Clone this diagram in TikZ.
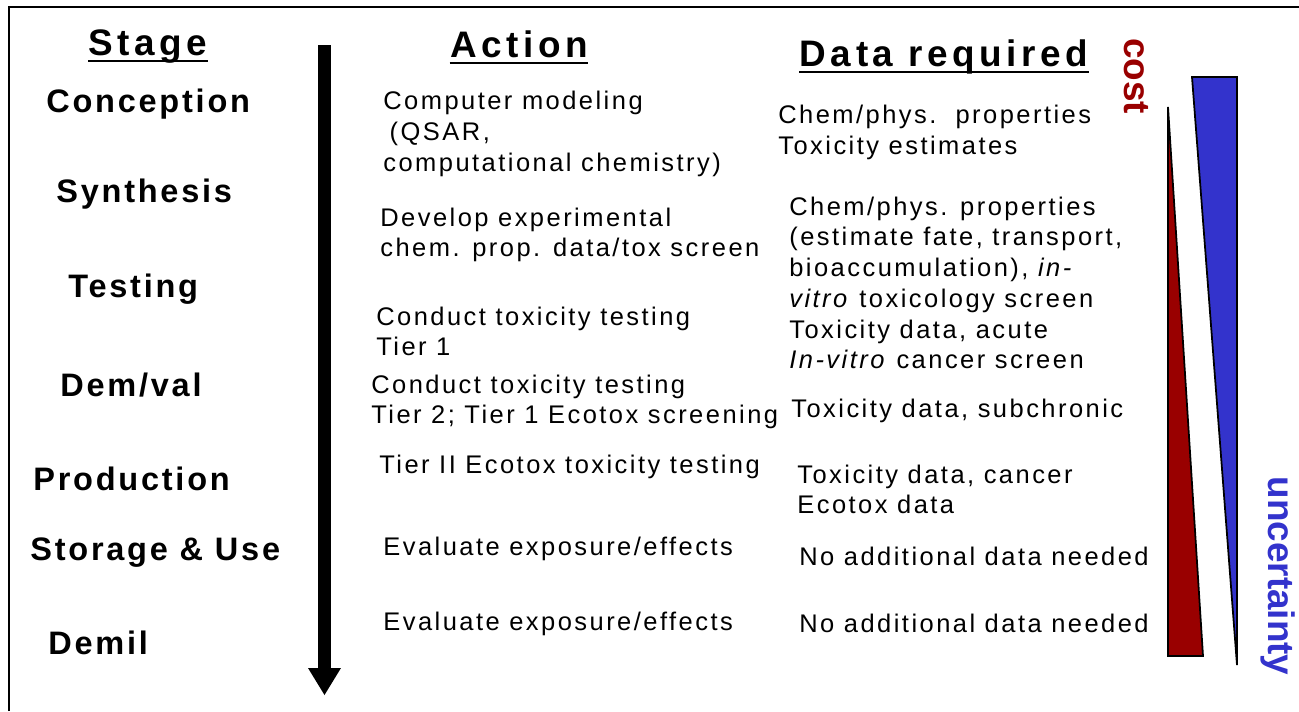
\documentclass[tikz,border=0pt]{standalone}
\usepackage{fontspec}
\setmainfont{Liberation Sans}
\usetikzlibrary{arrows.meta}
\definecolor{costred}{HTML}{990000}
\definecolor{uncblue}{HTML}{3333CC}

\begin{document}
\begin{tikzpicture}[x=0.02cm,y=-0.02cm,
  headtxt/.style={anchor=base,inner sep=0,font=\fontsize{21}{25}\selectfont\bfseries\addfontfeatures{LetterSpace=12.5}},
  stagetxt/.style={anchor=west,inner sep=0,font=\fontsize{18.5}{22}\selectfont\bfseries\addfontfeatures{LetterSpace=8.5}},
  bodytxt/.style={anchor=west,inner sep=0,align=left,font=\fontsize{14.5}{17.5}\selectfont\addfontfeatures{LetterSpace=9.7}},
  sidetxt/.style={inner sep=0,rotate=-90,font=\fontsize{21}{25}\selectfont\bfseries},
  wedge/.style={draw=black,line width=1pt}
]
\useasboundingbox (0,0) rectangle (1299,711);
% frame, open at the right and bottom
\draw[line width=1.7pt] (9,711) -- (9,7) -- (1299,7);

% column heads
\node[headtxt] (hstage) at (148,55) {Stage};
\node[headtxt] (haction) at (519,57) {Action};
\node[headtxt] (hdata) at (944,66) {Data required};
\foreach \h in {hstage,haction,hdata}
  \draw[line width=1.1pt] ([yshift=-3.4pt]\h.base west) -- ([yshift=-3.4pt]\h.base east);

% stages
\node[stagetxt] (conc) at (46,104) {Conception};
\node[stagetxt] (synt) at (56,194) {Synthesis};
\node[stagetxt] (test) at (68,289) {Testing};
\node[stagetxt] (demval) at (60,385) {Dem/val};
\node[stagetxt] (prod) at (33,479) {Production};
\node[stagetxt] (stor) at (30,553) {Storage \& Use};
\node[stagetxt] (demil) at (48,643) {Demil};

% time arrow
\coordinate (ttop) at (324.5,45);
\coordinate (tend) at (324.5,695);
\draw[line width=0.26cm,-{Triangle[width=0.66cm,length=0.54cm,line width=0pt]}] (ttop) -- (tend);

% actions
\node[bodytxt] (act1) at (383,134) {Computer modeling\\\hspace{0.25em}(QSAR,\\computational chemistry)};
\node[bodytxt] (act2) at (380,235) {Develop experimental\\chem. prop. data/tox screen};
\node[bodytxt] (act3) at (376,331.5) {Conduct toxicity testing\\Tier 1};
\node[bodytxt] (act4) at (371,402) {Conduct toxicity testing\\Tier 2; Tier 1 Ecotox screening};
\node[bodytxt] (act5) at (379,466.5) {Tier II Ecotox toxicity testing};
\node[bodytxt] (act6) at (383,548.5) {Evaluate exposure/effects};
\node[bodytxt] (act7) at (383,623.5) {Evaluate exposure/effects};

% data required
\node[bodytxt] (dat1) at (778,132.5) {Chem/phys.\ \ properties\\Toxicity estimates};
\node[bodytxt] (dat2) at (789,283) {Chem/phys. properties\\(estimate fate, transport,\\bioaccumulation), \textit{in-}\\\textit{vitro} toxicology screen\\Toxicity data, acute\\\textit{In-vitro} cancer screen};
\node[bodytxt] (dat3) at (791,410.5) {Toxicity data, subchronic};
\node[bodytxt] (dat4) at (797,489.5) {Toxicity data, cancer\\Ecotox data};
\node[bodytxt] (dat5) at (799,556.5) {No additional data needed};
\node[bodytxt] (dat6) at (799,623.5) {No additional data needed};

% cost and uncertainty wedges
\filldraw[wedge,fill=uncblue] (1192,77) -- (1237,77) -- (1237,665) -- cycle;
\filldraw[wedge,fill=costred] (1168,107) -- (1203,656) -- (1168,656) -- cycle;
\node[sidetxt,text=costred] (cost) at (1136,76) {cost};
\node[sidetxt,text=uncblue] (unc) at (1278,576) {uncertainty};
\end{tikzpicture}
\end{document}
